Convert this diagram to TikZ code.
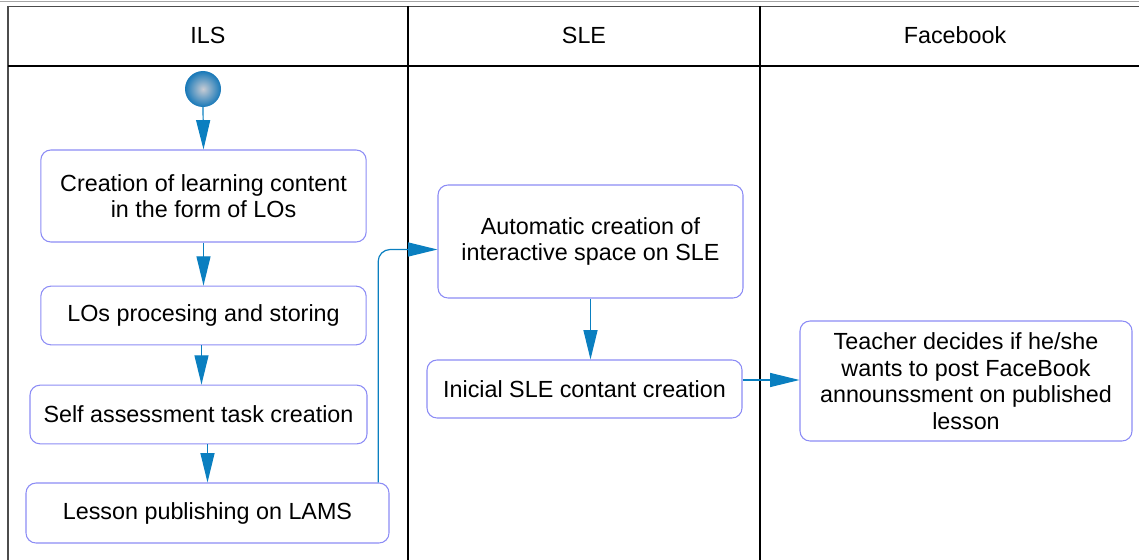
\documentclass[tikz,border=0pt]{standalone}
\usepackage{fontspec}
\setmainfont{Liberation Sans}
\usetikzlibrary{arrows.meta,calc}
\definecolor{conn}{HTML}{0A7FC0}
\definecolor{boxline}{HTML}{8C8CF5}
\definecolor{ballout}{HTML}{1778B8}
\definecolor{ballin}{HTML}{C8CCD4}
\begin{document}
\begin{tikzpicture}[x=0.75pt,y=-0.75pt,
  every node/.style={font=\fontsize{17.5}{20}\selectfont, text=black},
  actbox/.style={draw=boxline, line width=0.8pt, rounded corners=7.5pt, align=center, inner sep=0pt},
  flow/.style={draw=conn, line width=0.9pt, -{Triangle[length=22pt,width=10.5pt]}},
  lane/.style={line width=1pt, black}]
\useasboundingbox (0,0) rectangle (1139,560);
% frame
\draw[gray!70, line width=1pt] (0,1.5) -- (1139,1.5);
\draw[gray!60!black, line width=1.4pt] (8,6.5) -- (1139,6.5);
\draw[lane, gray!60!black, line width=1.4pt] (8,6) -- (8,560);
\draw[lane] (408,6) -- (408,560);
\draw[lane] (760,6) -- (760,560);
\draw[lane] (8,66) -- (1139,66);
% headers
\node (hILS) at (208,35) {ILS};
\node (hSLE) at (584,35) {SLE};
\node (hFB) at (955,35) {Facebook};
% start
\shade[inner color=ballin, outer color=ballout] (203,89) circle (18);
\coordinate (start) at (203,107);
% boxes
\node[actbox, minimum width=244pt, minimum height=69pt] (b1) at (203.5,196) {Creation of learning content\\in the form of LOs};
\node[actbox, minimum width=244pt, minimum height=44pt] (b2) at (203.5,315.5) {LOs procesing and storing};
\node[actbox, minimum width=252.75pt, minimum height=44pt] (b3) at (198.5,414.5) {Self assessment task creation};
\node[actbox, minimum width=272.25pt, minimum height=45pt] (b4) at (207.5,513) {Lesson publishing on LAMS};
\node[actbox, minimum width=228.75pt, minimum height=84.75pt] (b5) at (590.5,241.5) {Automatic creation of\\interactive space on SLE};
\node[actbox, minimum width=236.25pt, minimum height=43.5pt] (b6) at (584.5,389) {Inicial SLE contant creation};
\node[actbox, minimum width=249pt, minimum height=90pt] (b7) at (966,381) {Teacher decides if he/she\\wants to post FaceBook\\announssment on published\\lesson};
% connectors
\draw[flow] (start) -- (b1.north);
\draw[flow] (b1.south) -- (b2.north);
\draw[flow] ([xshift=-1.5pt]b2.south) -- ([xshift=-1.5pt]b2.south |- b3.north);
\draw[flow] (b3.south -| b4.north) -- (b4.north);
\draw[flow, rounded corners=9pt] ([xshift=128pt]b4.north) |- ($(b5.west)+(0,-6pt)$);
\draw[flow] (b5.south) -- (b5.south |- b6.north);
\coordinate (c6) at ($(b6.east)+(0,6.75pt)$);
\draw[flow] (c6) -- (c6 -| b7.west);
\end{tikzpicture}
\end{document}
